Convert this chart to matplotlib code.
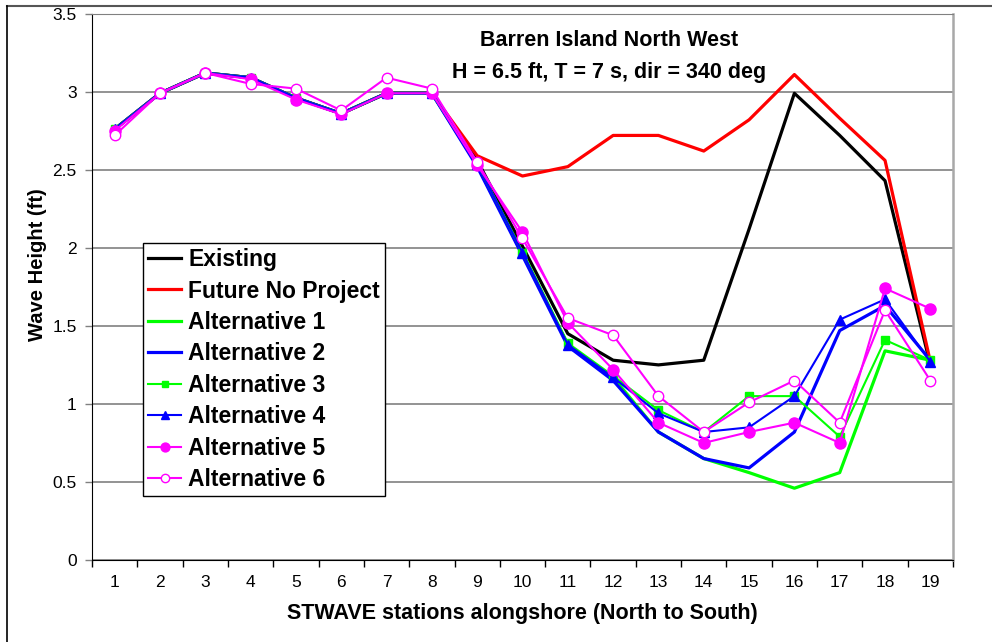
# Wave height along Barren Island NW shoreline, existing vs alternatives

import numpy as np
import matplotlib.pyplot as plt
from matplotlib.lines import Line2D

plt.rcParams['font.family'] = ['Liberation Sans', 'DejaVu Sans']

# %%
# Data (wave height in ft at each STWAVE station)
stations = np.arange(1, 20)

existing = [2.76, 2.99, 3.12, 3.09, 2.96, 2.86, 2.99, 2.99, 2.56, 2.01,
            1.45, 1.28, 1.25, 1.28, 2.12, 2.99, 2.72, 2.43, 1.25]
future_no_project = [2.76, 2.99, 3.12, 3.09, 2.96, 2.86, 2.99, 2.99, 2.59,
                     2.46, 2.52, 2.72, 2.72, 2.62, 2.82, 3.11, 2.83, 2.56, 1.27]
alt1 = [2.76, 2.99, 3.12, 3.09, 2.96, 2.86, 2.99, 2.99, 2.53, 1.97,
        1.38, 1.17, 0.82, 0.65, 0.56, 0.46, 0.56, 1.34, 1.28]
alt2 = [2.76, 2.99, 3.12, 3.09, 2.96, 2.86, 2.99, 2.99, 2.52, 1.95,
        1.37, 1.15, 0.82, 0.65, 0.59, 0.82, 1.47, 1.63, 1.28]
alt3 = [2.76, 2.99, 3.12, 3.09, 2.96, 2.86, 2.99, 2.99, 2.54, 1.97,
        1.39, 1.18, 0.96, 0.82, 1.05, 1.05, 0.79, 1.41, 1.28]
alt4 = [2.76, 2.99, 3.12, 3.09, 2.96, 2.86, 2.99, 2.99, 2.54, 1.97,
        1.38, 1.17, 0.94, 0.82, 0.85, 1.05, 1.54, 1.67, 1.27]
alt5 = [2.75, 2.99, 3.12, 3.08, 2.95, 2.855, 2.99, 2.99, 2.53, 2.10,
        1.52, 1.22, 0.88, 0.75, 0.82, 0.88, 0.75, 1.74, 1.61]
alt6 = [2.72, 2.99, 3.12, 3.05, 3.02, 2.88, 3.09, 3.02, 2.55, 2.06,
        1.55, 1.44, 1.05, 0.82, 1.01, 1.15, 0.88, 1.60, 1.15]

y_ticks = [0, 0.5, 1, 1.5, 2, 2.5, 3, 3.5]
y_ticklabels = ['0', '0.5', '1', '1.5', '2', '2.5', '3', '3.5']

# %%
# Figure and axes placement
fig = plt.figure(figsize=(9.92, 6.42), dpi=100)
ax = fig.add_axes([0.0927, 0.1277, 0.868, 0.851])

# outer chart frame (only top and left edges show in the picture)
fig.add_artist(Line2D([7 / 992, 1.0], [1 - 5.5 / 642, 1 - 5.5 / 642],
                      transform=fig.transFigure, color='#555555', lw=1.5))
fig.add_artist(Line2D([7 / 992, 7 / 992], [0.0, 1 - 5.5 / 642],
                      transform=fig.transFigure, color='black', lw=1.2))

# %%
# Series
ax.plot(stations, existing, color='black', lw=2.3, label='Existing')
ax.plot(stations, future_no_project, color='#ff0000', lw=2.3,
        label='Future No Project')
ax.plot(stations, alt1, color='#00ff00', lw=2.3, label='Alternative 1')
ax.plot(stations, alt2, color='#0000ff', lw=2.3, label='Alternative 2')
ax.plot(stations, alt3, color='#00ff00', lw=1.5, marker='s', ms=6,
        label='Alternative 3')
ax.plot(stations, alt4, color='#0000ff', lw=1.5, marker='^', ms=7,
        label='Alternative 4')
ax.plot(stations, alt5, color='#ff00ff', lw=1.5, marker='o', ms=8,
        label='Alternative 5')
ax.plot(stations, alt6, color='#ff00ff', lw=1.5, marker='o', ms=7.5,
        mfc='white', mew=1.0, label='Alternative 6')

# %%
# Axes styling
ax.set_xlim(0.5, 19.5)
ax.set_ylim(0, 3.5)
ax.set_yticks(y_ticks)
ax.set_yticklabels(y_ticklabels)
ax.yaxis.grid(True, color='#808080', lw=1.2)
ax.set_axisbelow(True)

# category boundaries get the tick marks, centres get the labels
ax.set_xticks(np.arange(0.5, 20.0, 1.0))
ax.set_xticklabels([])
ax.set_xticks(stations, minor=True)
ax.set_xticklabels([str(s) for s in stations], minor=True)
ax.tick_params(axis='x', which='major', direction='out', length=5,
               width=1, color='black')
ax.tick_params(axis='x', which='minor', length=0, pad=11, labelsize=12.5)
ax.tick_params(axis='y', direction='out', length=5, width=1,
               color='#808080', pad=6, labelsize=12.5)

ax.spines['left'].set_color('black')
ax.spines['bottom'].set_color('black')
ax.spines['top'].set_color('#808080')
ax.spines['right'].set_color('#a8a8a8')
ax.spines['right'].set_linewidth(1.8)

ax.set_xlabel('STWAVE stations alongshore (North to South)',
              fontsize=15.5, fontweight='bold')
ax.xaxis.set_label_coords(0.5, -0.079)
ax.set_ylabel('Wave Height (ft)', fontsize=14.5, fontweight='bold')
ax.yaxis.set_label_coords(-0.052, 0.54)

# %%
# Title lines inside the plot
title_font = dict(ha='center', va='center', fontsize=15.5, fontweight='bold',
                  zorder=5)
fig.text(609 / 992, 1 - 41 / 642, 'Barren Island North West', **title_font)
fig.text(609 / 992, 1 - 72.5 / 642, 'H = 6.5 ft, T = 7 s, dir = 340 deg',
         bbox=dict(facecolor='white', edgecolor='none', pad=1), **title_font)

# %%
# Legend
leg = ax.legend(loc='upper left', bbox_to_anchor=(143 / 992, 1 - 243 / 642),
                bbox_transform=fig.transFigure,
                prop={'weight': 'bold', 'size': 16.5},
                frameon=True, fancybox=False, framealpha=1,
                edgecolor='black', borderaxespad=0, borderpad=0.22,
                labelspacing=0.37, handlelength=1.45, handletextpad=0.3,
                markerscale=0.8)
leg.get_frame().set_linewidth(1.0)
leg.set_zorder(6)

fig.savefig('out.png', dpi=100)
